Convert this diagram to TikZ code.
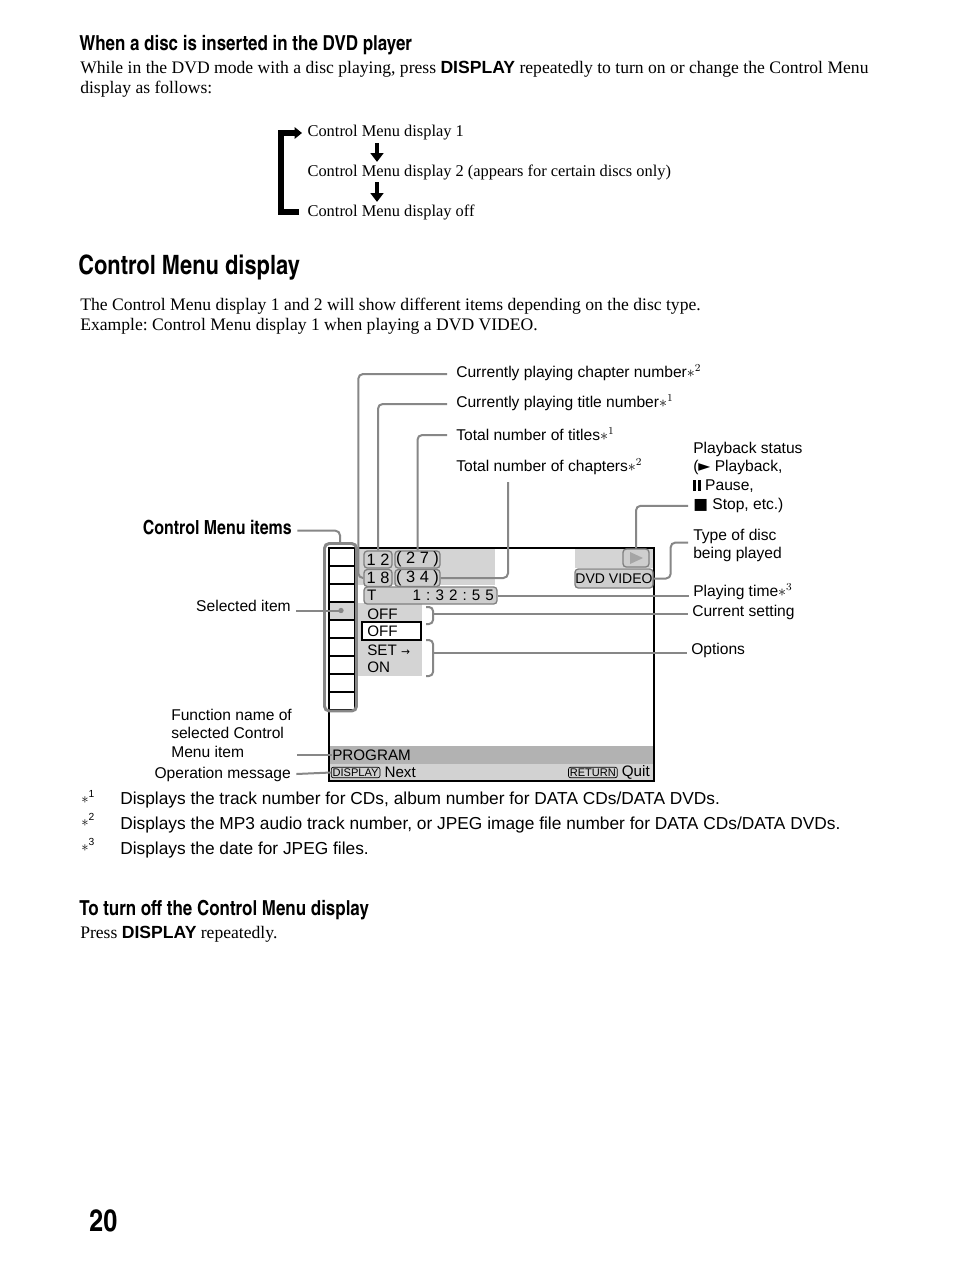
\documentclass[tikz,border=0pt]{standalone}
\usepackage{fontspec}
\setmainfont{Liberation Serif}
\setsansfont{Liberation Sans}
\newfontfamily\condfont[BoldFont=texgyreheroscn-bold.otf]{texgyreheroscn-regular.otf}
\newfontfamily\symfont{DejaVu Sans}
\usetikzlibrary{arrows.meta,positioning,calc}
\usepackage{xcolor}
\frenchspacing
\definecolor{PanelGray}{RGB}{212,212,212}
\definecolor{PillFill}{RGB}{206,206,206}
\definecolor{PillEdge}{RGB}{128,128,128}
\definecolor{BarDark}{RGB}{178,178,178}
\definecolor{BarLight}{RGB}{210,210,210}
\definecolor{LeaderGray}{RGB}{135,135,135}
\definecolor{PlayGray}{RGB}{165,165,165}
\newcommand{\noteref}[1]{{\rmfamily$\ast^{#1}$}}
\newcommand{\pausemark}{\rule{2.2pt}{8pt}\kern1.3pt\rule{2.2pt}{8pt}}
\tikzset{
  heading/.style={font=\condfont\bfseries\fontsize{15.5}{18}\selectfont,
    inner sep=0pt, anchor=west},
  bodytext/.style={font=\fontsize{13.2}{15}\selectfont, inner sep=0pt, align=left},
  flowtext/.style={font=\fontsize{12.3}{14}\selectfont, inner sep=1pt, anchor=west},
  callout/.style={font=\sffamily\fontsize{11.7}{14}\selectfont, inner sep=0pt, align=left},
  screentext/.style={font=\sffamily\fontsize{11.4}{13}\selectfont, inner sep=0pt, anchor=west},
  pill/.style={draw=PillEdge, fill=PillFill, rounded corners=2.5pt, line width=1pt,
    inner sep=0pt, font=\sffamily\fontsize{12.3}{13}\selectfont},
  keybox/.style={draw, rounded corners=1.5pt, line width=0.5pt, inner sep=1pt,
    font=\sffamily\fontsize{8.3}{9}\selectfont},
  leader/.style={draw=LeaderGray, line width=1.5pt, rounded corners=3.5pt},
  outline/.style={draw=LeaderGray, line width=2.2pt, rounded corners=3.5pt},
  cellline/.style={line width=0.9pt},
  screenframe/.style={line width=1.1pt},
  downarrow/.style={line width=3.3pt, -{Triangle[length=6.5pt,width=9.5pt]}},
  loopline/.style={line width=4pt, -{Triangle[length=5.5pt,width=8.5pt]}},
  footnote/.style={font=\sffamily\fontsize{13}{15}\selectfont, inner sep=0pt, anchor=west},
  fnmark/.style={font=\sffamily\fontsize{11}{12}\selectfont, inner sep=0pt, anchor=west}
}

\begin{document}
\begin{tikzpicture}[x=0.75pt, y=-0.75pt]
\useasboundingbox[fill=white] (0,0) rectangle (954,1272);

% disc inserted
\node[heading] (discHead) at (79,45) {When a disc is inserted in the DVD player};
\node[bodytext, anchor=north west] (introText) at (80,61) {While in the DVD mode with a disc playing, press \textsf{\bfseries DISPLAY} repeatedly to turn on or change the Control Menu\\display as follows:};

\node[flowtext] (dispOne) at (306,133) {Control Menu display 1};
\node[flowtext] (dispTwo) at (306,172) {Control Menu display 2 (appears for certain discs only)};
\node[flowtext] (dispOff) at (306,212) {Control Menu display off};
\draw[downarrow] ($(dispOne.south west)+(71,1)$) -- ($(dispTwo.north west)+(71,-1)$);
\draw[downarrow] ($(dispTwo.south west)+(71,1)$) -- ($(dispOff.north west)+(71,-1)$);
\draw[loopline, shorten >=3pt] ($(dispOff.west)+(-7,0)$) -- ++(-18,0) |- (dispOne.west);

% control menu display
\node[heading, font=\condfont\bfseries\fontsize{20}{24}\selectfont] (menuHead) at (78,268) {Control Menu display};
\node[bodytext, anchor=north west] (menuText) at (80,298) {The Control Menu display 1 and 2 will show different items depending on the disc type.\\Example: Control Menu display 1 when playing a DVD VIDEO.};

% screen
\fill[PanelGray] (355,548) rectangle (495,585);
\fill[PanelGray] (355,603) rectangle (422,676);
\fill[PanelGray] (575,548) rectangle (654,568);
\fill[BarDark] (329,746) rectangle (654,764);
\fill[BarLight] (329,764) rectangle (654,781);
\fill[PanelGray] (329,602) rectangle (355,620);
\foreach \row in {0,...,9}
  \draw[cellline] (329,{548+18*\row}) -- (355,{548+18*\row});
\draw[cellline] (355,548) -- (355,710);
\draw[screenframe] (329,548) rectangle (654,781);
\draw[screenframe, fill=white] (362,622) rectangle (421,640);
\draw[outline] (324.5,543.5) rectangle (356.5,711);
\coordinate (outlineTop) at (340,543.5);
\coordinate (selDot) at (341,610.5);
\fill[LeaderGray] (selDot) circle (2pt);

\node[pill, minimum width=21pt, minimum height=12.75pt] (titleNum) at (378,559.5) {1 2};
\node[pill, minimum width=33.75pt, minimum height=12.75pt] (titleTotal) at (417.5,559.5) {( 2 7 )};
\node[pill, minimum width=21pt, minimum height=12.75pt] (chapNum) at (378,578) {1 8};
\node[pill, minimum width=33.75pt, minimum height=12.75pt] (chapTotal) at (417.5,578) {( 3 4 )};
\node[pill, minimum width=99.75pt, minimum height=12.75pt, text width=95pt, font=\sffamily\fontsize{11.4}{13}\selectfont] (timePill) at (430.5,595.5) {T\hfill 1 : 3 2 : 5 5};
\node[pill, minimum width=19.5pt, minimum height=13.5pt] (playPill) at (636,558) {};
\fill[PlayGray] ($(playPill.center)+(-6,-6)$) -- ++(0,12) -- ++(13,-6) -- cycle;
\node[pill, minimum width=58.5pt, minimum height=14.25pt, font=\sffamily\fontsize{10.5}{12}\selectfont] (discPill) at (614,578.5) {DVD VIDEO};

\node[screentext] (offOne) at (367,614) {OFF};
\node[screentext] (offTwo) at (367,631.5) {OFF};
\node[screentext] (setText) at (367,650) {SET {\symfont\fontsize{8}{8}\selectfont →}};
\node[screentext] (onText) at (367,667) {ON};
\draw[leader, rounded corners=3pt] (426,607) -- (433,607) -- (433,624) -- (426,624);
\draw[leader, rounded corners=3pt] (426,640) -- (433,640) -- (433,676) -- (426,676);
\coordinate (curBrace) at (433,614);
\coordinate (optBrace) at (433,653);

\node[screentext] (progText) at (332,755) {PROGRAM};
\node[keybox, anchor=west] (dispKey) at (331,772.5) {DISPLAY};
\node[screentext, right=3pt of dispKey] (nextText) {Next};
\node[screentext, anchor=east] (quitText) at (650,772.5) {Quit};
\node[keybox, left=3pt of quitText] (returnKey) {RETURN};

% callouts
\node[callout, anchor=west] (chapLabel) at (456,373) {Currently playing chapter number\noteref{2}};
\node[callout, anchor=west] (titleLabel) at (456,403) {Currently playing title number\noteref{1}};
\node[callout, anchor=west] (titlesLabel) at (456,434) {Total number of titles\noteref{1}};
\node[callout, anchor=west] (chaptersLabel) at (456,467) {Total number of chapters\noteref{2}};
\node[callout, anchor=north west] (statusLabel) at (693,441.7) {Playback status\\({\symfont ►} Playback,\\\pausemark{} Pause,\\{\symfont ■} Stop, etc.)};
\node[callout, anchor=north west] (typeLabel) at (693,528.7) {Type of disc\\being played};
\node[callout, anchor=west] (timeLabel) at (693,592) {Playing time\noteref{3}};
\node[callout, anchor=west] (currentLabel) at (692,612) {Current setting};
\node[callout, anchor=west] (optionsLabel) at (691,650) {Options};

\node[heading, anchor=east, font=\condfont\bfseries\fontsize{14.6}{17}\selectfont] (itemsLabel) at (292,528) {Control Menu items};
\node[callout, anchor=east] (selectedLabel) at (291,606) {Selected item};
\node[callout, anchor=north west] (funcLabel) at (171,708.7) {Function name of\\selected Control\\Menu item};
\node[callout, anchor=east] (opLabel) at (291,774) {Operation message};

\draw[leader] ($(chapLabel.west)+(-9,1)$) -| ($(chapNum.west)+(-5,0)$) -- (chapNum.west);
\draw[leader] ($(titleLabel.west)+(-9,1)$) -| (titleNum.north);
\draw[leader] ($(titlesLabel.west)+(-9,1)$) -| (titleTotal.north);
\draw[leader] ($(chaptersLabel.south west)+(52,7)$) |- (chapTotal.east);
\draw[leader] ($(statusLabel.south west)+(-5,-7)$) -| (playPill.north);
\draw[leader] ($(typeLabel.west)+(-5,-3)$) -| ($(discPill.east)+(17,0)$) -- (discPill.east);
\draw[leader] (timePill.east) -- ([xshift=-3pt]timePill.east -| timeLabel.west);
\draw[leader] (curBrace) -- ([xshift=-3pt]curBrace -| currentLabel.west);
\draw[leader] (optBrace) -- ([xshift=-3pt]optBrace -| optionsLabel.west);
\draw[leader] ([xshift=4pt]selectedLabel.east |- selDot) -- (selDot);
\draw[leader] ([xshift=4pt]funcLabel.east |- progText.west) -- (progText.west);
\draw[leader] ([xshift=4pt]opLabel.east) -- (dispKey.west);
\draw[leader] ([shift={(4pt,-2pt)}]itemsLabel.east) -| (outlineTop);

% footnotes
\node[fnmark] (markOne) at (81,797) {$\ast$\textsuperscript{1}};
\node[footnote] (noteOne) at (120,800) {Displays the track number for CDs, album number for DATA CDs/DATA DVDs.};
\node[fnmark] (markTwo) at (81,820) {$\ast$\textsuperscript{2}};
\node[footnote] (noteTwo) at (120,825) {Displays the MP3 audio track number, or JPEG image file number for DATA CDs/DATA DVDs.};
\node[fnmark] (markThree) at (81,845) {$\ast$\textsuperscript{3}};
\node[footnote] (noteThree) at (120,850) {Displays the date for JPEG files.};

% turning off
\node[heading] (offHead) at (79,910) {To turn off the Control Menu display};
\node[bodytext, anchor=west] (pressText) at (80,934) {Press \textsf{\bfseries DISPLAY} repeatedly.};
\node[heading, font=\condfont\bfseries\fontsize{23}{26}\selectfont] (pageNum) at (89,1221) {20};
\end{tikzpicture}
\end{document}
